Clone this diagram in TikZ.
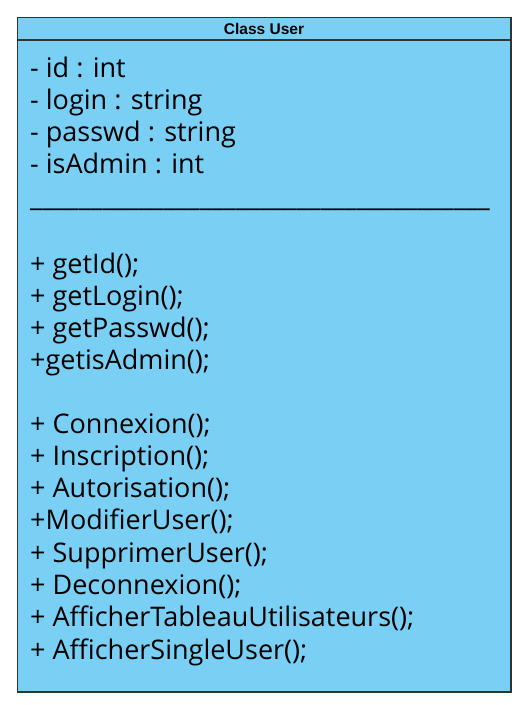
\documentclass[tikz,border=0pt]{standalone}
\usepackage{fontspec}
\setmainfont{Open Sans}
\newfontfamily\headfont{Liberation Sans}
\definecolor{classblue}{HTML}{79CFF4}
\definecolor{classline}{HTML}{333333}

\begin{document}
\begin{tikzpicture}[x=1pt,y=-1pt,
  member/.style={anchor=base west,inner sep=0pt,font=\fontsize{27}{31}\selectfont}]
  \useasboundingbox (0,0) rectangle (523,705);
  \draw[classline,fill=classblue,line width=1.2pt] (17.5,17.5) rectangle (511,692);
  \draw[classline,line width=1.2pt] (17.5,40) -- (511,40);
  \node[font=\headfont\bfseries\fontsize{15.5}{17}\selectfont] (title) at (264,28.5) {Class User};
  % attributes, separator and methods
  \foreach \y/\txt [count=\i] in {77/- id : int, 109/- login : string, 141/- passwd : string,
      173/- isAdmin : int, 273/+ getId();, 305/+ getLogin();, 337/+ getPasswd();,
      369/+getisAdmin();, 433/+ Connexion();, 465/+ Inscription();, 497/+ Autorisation();,
      529/+ModifierUser();, 562/+ SupprimerUser();, 594/+ Deconnexion();,
      626/+ AfficherTableauUtilisateurs();, 659/+ AfficherSingleUser();}
    \node[member] (m\i) at (30,\y) {\txt};
  \node[member] (sep) at (30,206) {\_\_\_\_\_\_\_\_\_\_\_\_\_\_\_\_\_\_\_\_\_\_\_\_\_\_\_\_\_\_\_\_\_\_\_\_\_\_};
\end{tikzpicture}
\end{document}
